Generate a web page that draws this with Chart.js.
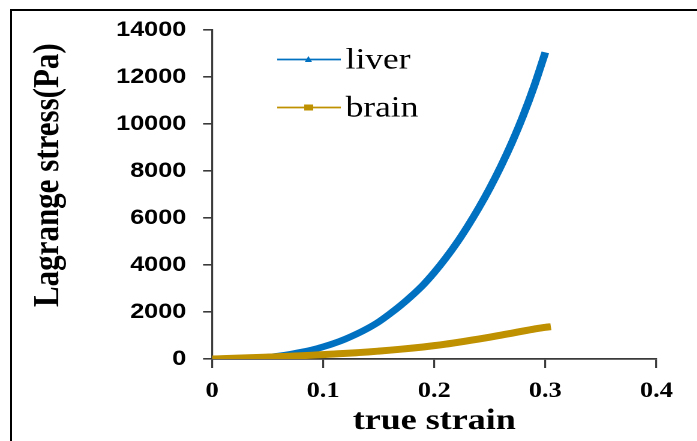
<!DOCTYPE html>
<html><head><meta charset="utf-8">
<script src="https://cdn.jsdelivr.net/npm/chart.js@4.4.1/dist/chart.umd.min.js"></script>
<style>
html,body{margin:0;padding:0;background:#fff;width:697px;height:441px;overflow:hidden;}
#frame{position:absolute;left:10px;top:9px;width:720px;height:460px;border-top:2px solid #000;border-left:2px solid #000;box-sizing:border-box;}
#wrap{position:absolute;left:0;top:0;width:581px;height:441px;transform:scaleX(1.2);transform-origin:0 0;}
canvas{display:block;}
</style></head><body>
<div id="frame"></div>
<div id="wrap"><canvas id="c" width="581" height="441"></canvas></div>
<script>
// ---- data ----
const liverStrain = [0,0.01,0.02,0.03,0.04,0.05,0.06,0.07,0.08,0.09,0.10,0.11,0.12,0.13,0.14,0.15,0.16,0.17,0.18,0.19,0.20,0.21,0.22,0.23,0.24,0.25,0.26,0.27,0.28,0.29,0.30];
const liverStress = [0,0,5,20,45,80,130,200,290,390,520,670,850,1060,1300,1580,1920,2290,2700,3150,3680,4270,4920,5640,6420,7270,8200,9220,10350,11620,13050];
const brainStrain = [0,0.01,0.02,0.03,0.04,0.05,0.06,0.07,0.08,0.09,0.10,0.11,0.12,0.13,0.14,0.15,0.16,0.17,0.18,0.19,0.20,0.21,0.22,0.23,0.24,0.25,0.26,0.27,0.28,0.29,0.30,0.305];
const brainStress = [0,15,30,46,63,81,100,119,139,162,188,214,240,268,298,335,375,418,463,512,568,630,700,775,850,930,1015,1100,1190,1275,1350,1375];
const seriesNames = ['liver','brain'];
const xTickValues = [0,0.1,0.2,0.3,0.4];
const yTickValues = [0,2000,4000,6000,8000,10000,12000,14000];
const xAxisTitle = 'true strain';
const yAxisTitle = 'Lagrange stress(Pa)';

const blue = 'rgb(0,112,192)';
const gold = 'rgb(191,144,0)';
const axisColor = '#3a3a3a';

function pts(xs, ys){ return xs.map((x,i)=>({x:x, y:ys[i]})); }

const legendPlugin = {
  id:'manualLegend',
  afterDraw(chart){
    const ctx = chart.ctx;
    ctx.save();
    const items = [{ds:0, y:59.5, base:68.5, marker:'triangle'},{ds:1, y:107.5, base:116.5, marker:'square'}];
    items.forEach(it=>{
      const ds = chart.data.datasets[it.ds];
      ctx.strokeStyle = ds.borderColor;
      ctx.lineWidth = 1.7;
      ctx.beginPath(); ctx.moveTo(231, it.y); ctx.lineTo(284, it.y); ctx.stroke();
      ctx.fillStyle = ds.borderColor;
      if (it.marker === 'triangle'){
        ctx.beginPath(); ctx.moveTo(257, it.y-3.5); ctx.lineTo(260, it.y+2.5); ctx.lineTo(254, it.y+2.5); ctx.closePath(); ctx.fill();
      } else {
        ctx.fillRect(253.5, it.y-3, 7.5, 6);
      }
      ctx.fillStyle = '#000';
      ctx.font = '29.5px "Liberation Serif"';
      ctx.textBaseline = 'alphabetic';
      ctx.textAlign = 'left';
      ctx.fillText(ds.label, 288, it.base);
    });
    ctx.restore();
  }
};

new Chart(document.getElementById('c'), {
  type:'line',
  data:{
    datasets:[
      {label:seriesNames[0], data:pts(liverStrain, liverStress), borderColor:blue, backgroundColor:blue,
       borderWidth:6.5, pointRadius:0, cubicInterpolationMode:'monotone', order:1, fill:false},
      {label:seriesNames[1], data:pts(brainStrain, brainStress), borderColor:gold, backgroundColor:gold,
       borderWidth:7, pointRadius:0, cubicInterpolationMode:'monotone', order:0, fill:false}
    ]
  },
  options:{
    responsive:false,
    animation:false,
    devicePixelRatio:2,
    layout:{padding:{left:0, right:34, top:30, bottom:0}},
    plugins:{legend:{display:false}, tooltip:{enabled:false}},
    scales:{
      x:{
        type:'linear', min:0, max:0.4,
        afterBuildTicks(s){ s.ticks = xTickValues.map(v=>({value:v})); },
        afterFit(s){ s.height = 82; },
        grid:{drawOnChartArea:false, drawTicks:true, tickLength:9, color:axisColor, lineWidth:1.6},
        border:{display:true, color:axisColor, width:1.8},
        ticks:{color:'#000', padding:10, maxRotation:0, autoSkip:false,
          font:{family:'"Liberation Serif"', size:22, weight:'bold'},
          callback:(v)=>String(Math.round(v*10)/10)},
        title:{display:true, text:xAxisTitle, color:'#000', padding:{top:0,bottom:2},
          font:{family:'"Liberation Serif"', size:30, weight:'bold'}}
      },
      y:{
        type:'linear', min:0, max:14000,
        afterBuildTicks(s){ s.ticks = yTickValues.map(v=>({value:v})); },
        afterFit(s){ s.width = 176.7; },
        grid:{drawOnChartArea:false, drawTicks:true, tickLength:7.5, color:axisColor, lineWidth:1.6},
        border:{display:true, color:axisColor, width:1.6},
        ticks:{color:'#000', padding:14, autoSkip:false,
          font:{family:'"Liberation Sans"', size:21, weight:'bold'},
          callback:(v)=>String(v)},
        title:{display:true, text:'     ' + yAxisTitle, color:'#000', padding:{top:22,bottom:0},
          font:{family:'"Liberation Serif"', size:31, weight:'bold'}}
      }
    }
  },
  plugins:[legendPlugin]
});
</script>
</body></html>
